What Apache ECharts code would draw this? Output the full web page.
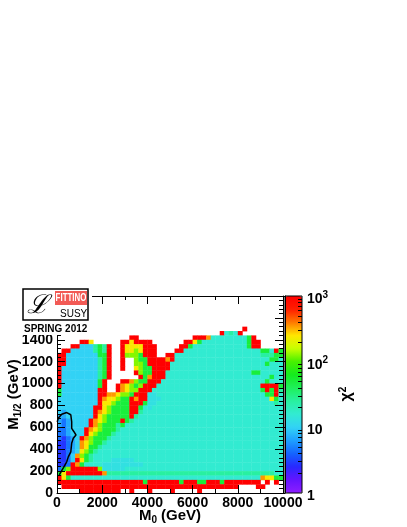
<!DOCTYPE html>
<html>
<head>
<meta charset="utf-8">
<script src="https://cdn.jsdelivr.net/npm/echarts@6/dist/echarts.min.js"></script>
<style>
html, body { margin: 0; padding: 0; background: #fff; }
#chart { width: 407px; height: 527px; }
</style>
</head>
<body>
<div id="chart"></div>
<script>
// axis ticks
const m0Ticks = [0, 2000, 4000, 6000, 8000, 10000];
const m12Ticks = [0, 200, 400, 600, 800, 1000, 1200, 1400];
const chi2Ticks = [1, 10, 100, 1000];

// bin size of the scan (GeV)
const binM0 = 200;
const binM12 = 40;

// chi2 level for each colour class
const chi2Levels = { B: 2.8, b: 4.5, l: 7, c: 10, k: 13, t: 16, h: 25, g: 50, y: 125, Y: 240, o: 350, r: 1000 };

// one string per M1/2 bin, top (1480 GeV) to bottom (0 GeV), one char per M0 bin, '.' = no point
const chi2Rows = [
  ".......... .......... .......... .......... .r........",
  ".......... .......... .......... ......rtht r.........",
  ".......... ......rr.. .......... rrrotttttt ttgr......",
  ".....rrY.. ....rrYrrr r.......rr Ygtttttttt ttgrr.....",
  "...rrccchg hr..rYYYYr rr.....rrg tttttttttt ttgrr.....",
  ".rrccccchg hr..rYYyYr rr....rrtt tttttttttt tttttggtrg",
  "rrcccccccg gr..ryyygr rr..rrtttt tttttttttt ttttthhhgg",
  "rrccccccch gr..r..ygg rrrrortttt tttttttttt tttttttggt",
  "rrccccccch gr..r..yyg rrrrrttttt tttttttttt ttttttgttt",
  "rcccccccch gr..r..Yyg grrrrttttt tttttttttt tttttttttt",
  "rcccccccch gr.....ryg grrrtttttt tttttttttt tttggttttt",
  "rcccccccch gr......rg orrrtttttt tttttttttt tttttttgtt",
  "rccccccccg r...rroygg rrrttttttt tttttttttt ttttttgttt",
  "rccccccccg r..roYygyr rrtttttttt tttttttttt tttttrrrrg",
  "gccccccccr r..roYyyrr rttttttttt tttttttttt tttttgrgrh",
  "gccccccccr rooYyygrrr kktttttttt tttttttttt ttttttggrt",
  "cccccccccr oYYyggrorr kkkttttttt tttttttttt tttttttYgt",
  "cccccccccr YYygggrrrg kktttttttt tttttttttt ttttttttht",
  "ccccccccrr Yyggggrrgt kttttttttt tttttttttt tttttttttt",
  "clccccccro Yyggggrrht tttttttttt tttttttttt tttttttttt",
  "llccccccrY ygggggrhtt tttttttttt tttttttttt tttttttttt",
  "lblccccroY ygggrghttt tttttttttt tttttttttt tttttttttt",
  "lblccccroy ggghgttttt tttttttttt tttttttttt tttttttttt",
  "bblcccroYy ggghtttttt tttttttttt tttttttttt tttttttttt",
  "bblcccrYyg gghttttttt tttttttttt tttttttttt tttttttttt",
  "bBblcroygg ghtttttttt tttttttttt tttttttttt tttttttttt",
  "BBblcoYygg httttttttt tttttttttt tttttttttt tttttttttt",
  "BBblcoYggh tttttttttt tttttttttt tttttttttt tttttttttt",
  "BBblcYyght tttttttttt tttttttttt tttttttttt tttttttttt",
  "BBbcoyghtt tttttttttt tttttttttt tttttttttt tttttttttt",
  "BBbcrYghtt ttkkkkkttt tttttttttt tttttttttt tttttttttt",
  "BBbrogtttt kkkkkkkkkt tttttttttt tttttttttt tttttttttt",
  "bgyrrrrrry kkkkkttttt tttttttttt tttttttttt tttttttttt",
  "gYrrrrrrrr ohhhhhhhhh hhhhhhhhhh hhhhhhhhhh hhhhhhhhtt",
  "rYgttttttt tttttttttt tttttttttt tttttttttt tttttoYYgg",
  "rrrrrrrrrr rrrrrrrrrg rrrrrrrgrr rggrrrgrrr rrrrr.r.r.",
  ".rrrrrrrrr rrrrrrrrrr rrrrrrrrrr rrrrrrrrrr ....rr....",
  ".....rrrrr rrrr..r... r....r.... .r........ .........."
];

// 1 sigma contour
const contourM0 = [100, 280, 430, 500, 610, 650, 720, 840, 750, 650, 650, 610, 430, 210, 60, 10];
const contourM12 = [165, 230, 285, 330, 375, 455, 500, 530, 560, 590, 650, 715, 735, 720, 685, 650];

const cells = [];
chi2Rows.forEach((row, k) => {
  const cols = row.replace(/ /g, '');
  const m12 = (chi2Rows.length - 1 - k) * binM12;
  for (let i = 0; i < cols.length; i++) {
    const v = chi2Levels[cols[i]];
    if (v) cells.push([i * binM0, m12, Math.log10(v)]);
  }
});
const contour = contourM0.map((x, i) => [x, contourM12[i]]);

const logTicks = chi2Ticks.map(Math.log10);
const logMinor = [];
chi2Ticks.slice(0, 3).forEach(d => {
  for (let k = 2; k <= 9; k++) logMinor.push(Math.log10(k * d));
});

const font = "'Liberation Sans', Arial, sans-serif";
const black = '#000';
const labelStyle = { color: black, fontFamily: font, fontWeight: 'bold', fontSize: 14 };
const titleRich = {
  m: { fontFamily: font, fontWeight: 'bold', fontSize: 15, color: black, lineHeight: 18 },
  s: { fontFamily: font, fontWeight: 'bold', fontSize: 10, color: black, lineHeight: 10, verticalAlign: 'bottom' }
};

function frameAxis(extra) {
  return Object.assign({
    gridIndex: 0,
    type: 'value',
    z: 10,
    axisLine: { show: true, onZero: false, lineStyle: { color: black, width: 1 } },
    axisTick: { show: true, inside: true, length: 8, lineStyle: { color: black, width: 1 } },
    minorTick: { show: true, length: 4, lineStyle: { color: black, width: 1 } },
    splitLine: { show: false },
    minorSplitLine: { show: false }
  }, extra);
}

function renderCell(params, api) {
  const lo = api.coord([api.value(0), api.value(1)]);
  const hi = api.coord([api.value(0) + binM0, api.value(1) + binM12]);
  return {
    type: 'rect',
    shape: { x: lo[0], y: hi[1], width: hi[0] - lo[0] + 0.4, height: lo[1] - hi[1] + 0.4 },
    style: { fill: api.visual('color') }
  };
}

const chart = echarts.init(document.getElementById('chart'));
chart.setOption({
  animation: false,
  backgroundColor: '#fff',
  grid: [
    { left: 57, top: 296, width: 226, height: 197, containLabel: false, outerBoundsMode: 'none' },
    { left: 285, top: 296, width: 17, height: 197, containLabel: false, outerBoundsMode: 'none' }
  ],
  xAxis: [
    frameAxis({
      min: m0Ticks[0], max: m0Ticks[m0Ticks.length - 1], interval: 2000, position: 'bottom',
      minorTick: { show: true, splitNumber: 2, length: 4, lineStyle: { color: black } },
      axisLabel: Object.assign({ margin: 3, formatter: v => String(v) }, labelStyle),
      name: '{m|M}{s|0}{m| (GeV)}', nameLocation: 'middle', nameGap: 14, nameMoveOverlap: false,
      nameTextStyle: { rich: titleRich }
    }),
    frameAxis({
      min: m0Ticks[0], max: m0Ticks[m0Ticks.length - 1], interval: 2000, position: 'top',
      minorTick: { show: true, splitNumber: 2, length: 4, lineStyle: { color: black } },
      axisLabel: { show: false }
    }),
    { gridIndex: 1, type: 'value', min: 0, max: 1, show: false }
  ],
  yAxis: [
    frameAxis({
      min: 0, max: 1800, interval: 200, position: 'left',
      minorTick: { show: true, splitNumber: 5, length: 4, lineStyle: { color: black } },
      axisLabel: Object.assign({
        margin: 4,
        formatter: v => (m12Ticks.indexOf(v) >= 0 ? String(v) : '')
      }, labelStyle),
      name: '{m|M}{s|1/2}{m| (GeV)}', nameLocation: 'middle', nameRotate: 90, nameGap: 34,
      nameMoveOverlap: false,
      nameTextStyle: { rich: titleRich }
    }),
    frameAxis({
      min: 0, max: 1800, interval: 200, position: 'right',
      minorTick: { show: true, splitNumber: 5, length: 4, lineStyle: { color: black } },
      axisLabel: { show: false }
    }),
    {
      gridIndex: 1, type: 'value', min: 0, max: 3, position: 'right', z: 10,
      axisLine: { show: true, lineStyle: { color: black, width: 1 } },
      axisTick: { show: true, inside: true, length: 8, customValues: logTicks, lineStyle: { color: black } },
      axisLabel: Object.assign({
        customValues: logTicks, margin: 5, padding: [6, 0, 0, 0],
        formatter: v => {
          const t = chi2Ticks[Math.round(v)];
          return t < 100 ? '{n|' + t + '}' : '{n|10}{p|' + Math.round(v) + '}';
        },
        rich: {
          n: { fontFamily: font, fontWeight: 'bold', fontSize: 14, color: black, lineHeight: 18 },
          p: { fontFamily: font, fontWeight: 'bold', fontSize: 10, color: black, lineHeight: 8, verticalAlign: 'top' }
        }
      }, labelStyle),
      splitLine: { show: false }
    },
    {
      gridIndex: 1, type: 'value', min: 0, max: 3, position: 'right', z: 10,
      axisLine: { show: false },
      axisTick: { show: true, inside: true, length: 4, customValues: logMinor, lineStyle: { color: black } },
      axisLabel: { show: false },
      splitLine: { show: false }
    }
  ],
  visualMap: {
    type: 'continuous',
    min: 0, max: 3, dimension: 2, seriesIndex: 0,
    orient: 'vertical', left: 285, top: 296,
    itemWidth: 17, itemHeight: 197, padding: 0,
    calculable: false, hoverLink: false, text: null,
    inRange: {
      color: ['#8c1eff', '#6414ff', '#2828ff', '#1464ff', '#1ea0ff', '#32d2f5', '#32ebd2', '#28f0a0',
              '#1ef05a', '#14eb1e', '#46f000', '#c8ff00', '#ffe600', '#ff7800', '#ff1e00', '#ff0000']
    }
  },
  series: [
    {
      type: 'custom', xAxisIndex: 0, yAxisIndex: 0,
      renderItem: renderCell, data: cells, encode: { x: 0, y: 1 }, clip: true, silent: true
    },
    {
      type: 'line', xAxisIndex: 0, yAxisIndex: 0, data: contour, showSymbol: false, z: 5, silent: true,
      lineStyle: { color: black, width: 1.5 }
    }
  ],
  graphic: [
    { type: 'rect', z: 30, shape: { x: 285, y: 296, width: 17, height: 197 }, style: { fill: null, stroke: black, lineWidth: 1 } },
    {
      type: 'text', z: 30, x: 347, y: 394, rotation: Math.PI / 2,
      style: {
        text: '{n|\u03c7}{p|2}', align: 'center', verticalAlign: 'middle',
        rich: {
          n: { fontFamily: font, fontWeight: 'bold', fontSize: 16, fill: black, lineHeight: 18 },
          p: { fontFamily: font, fontWeight: 'bold', fontSize: 10, fill: black, lineHeight: 8, verticalAlign: 'top' }
        }
      }
    },
    // Fittino logo
    { type: 'rect', z: 40, shape: { x: 18, y: 283, width: 74, height: 52 }, style: { fill: '#fff' } },
    { type: 'rect', z: 41, shape: { x: 23, y: 289, width: 65, height: 31 }, style: { fill: '#fff', stroke: black, lineWidth: 1.5 } },
    { type: 'rect', z: 42, shape: { x: 55, y: 291, width: 32, height: 14 }, style: { fill: '#f25a55' } },
    {
      type: 'text', z: 44, x: 71, y: 298, scaleX: 0.72,
      style: { text: 'FITTINO', fill: '#fff', align: 'center', verticalAlign: 'middle',
               font: "bold 11px 'Liberation Sans', sans-serif" }
    },
    {
      type: 'text', z: 43, x: 38, y: 306,
      style: { text: '\u2112', fill: black, align: 'center', verticalAlign: 'middle',
               font: "italic 26px 'DejaVu Serif', serif" }
    },
    {
      type: 'text', z: 43, x: 60, y: 314,
      style: { text: 'SUSY', fill: black, align: 'left', verticalAlign: 'middle',
               font: "10px 'Liberation Sans', sans-serif" }
    },
    {
      type: 'text', z: 43, x: 24, y: 329,
      style: { text: 'SPRING 2012', fill: black, align: 'left', verticalAlign: 'middle',
               font: "bold 10px 'Liberation Sans', sans-serif" }
    }
  ]
});
</script>
</body>
</html>
